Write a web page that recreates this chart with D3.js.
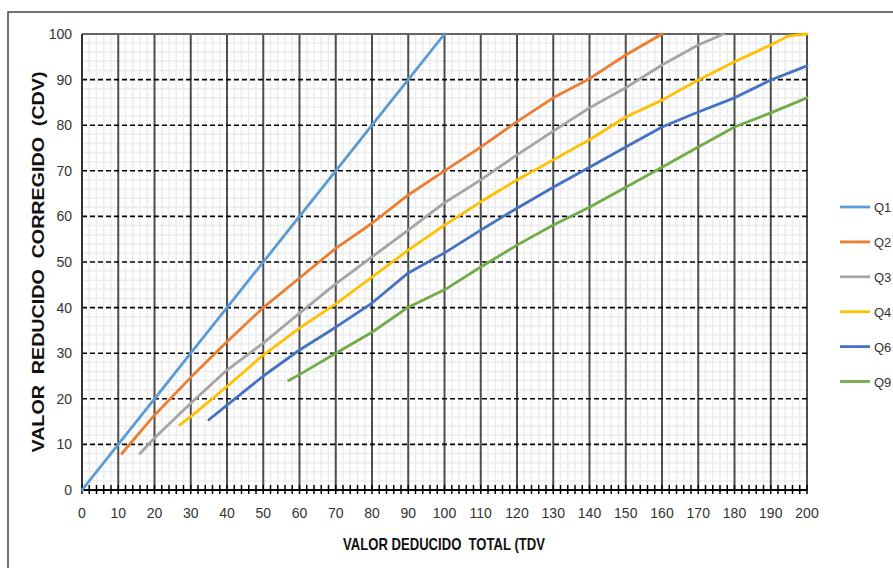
<!DOCTYPE html>
<html>
<head>
<meta charset="utf-8">
<script src="https://cdn.jsdelivr.net/npm/d3@7"></script>
<style>
  body { margin: 0; background: #fff; }
  svg { display: block; }
</style>
</head>
<body>
<svg id="chart"></svg>
<script>
// series: x = TDV, y = CDV
const seriesNames = ["Q1", "Q2", "Q3", "Q4", "Q6", "Q9"];
const seriesColors = ["#5b9bd5", "#ed7d31", "#a5a5a5", "#ffc000", "#4472c4", "#70ad47"];

const q1X = [0, 10, 20, 30, 40, 50, 60, 70, 80, 90, 100];
const q1Y = [0, 10, 20, 30, 40, 50, 60, 70, 80, 90, 100];
const q2X = [11, 20, 30, 40, 50, 60, 70, 80, 90, 100, 110, 120, 130, 140, 150, 160];
const q2Y = [8, 16.4, 24.7, 32.5, 40, 46.5, 53, 58.5, 64.7, 70, 75.2, 80.8, 86, 90.2, 95.4, 100];
const q3X = [16, 20, 30, 40, 50, 60, 70, 80, 90, 100, 110, 120, 130, 140, 150, 160, 170, 177];
const q3Y = [8, 11.4, 19, 26.3, 32.2, 38.8, 45.2, 51.1, 57, 63, 68, 73.5, 78.7, 83.8, 88.2, 93.2, 97.6, 100];
const q4X = [27, 30, 40, 50, 60, 70, 80, 90, 100, 110, 120, 130, 140, 150, 160, 170, 180, 190, 195, 200];
const q4Y = [14.3, 16.1, 22.7, 29.6, 35.5, 40.8, 46.7, 52.6, 58.1, 63.2, 68, 72.4, 76.8, 81.8, 85.5, 89.9, 93.9, 97.6, 99.6, 100];
const q6X = [35, 40, 50, 60, 70, 80, 90, 100, 110, 120, 130, 140, 150, 160, 170, 180, 190, 200];
const q6Y = [15.4, 18.6, 25, 30.7, 35.7, 41, 47.6, 52, 57, 61.8, 66.4, 70.8, 75.2, 79.6, 82.9, 86, 89.9, 93];
const q9X = [57, 60, 70, 80, 90, 100, 110, 120, 130, 140, 150, 160, 170, 180, 190, 200];
const q9Y = [24, 25.3, 30, 34.6, 40.1, 43.9, 48.9, 53.7, 58.1, 62, 66.4, 70.8, 75.2, 79.6, 82.7, 86];

const xTicks = d3.range(0, 201, 10);
const yTicks = d3.range(0, 101, 10);

const xTitle = "VALOR DEDUCIDO  TOTAL (TDV";
const yTitle = "VALOR  REDUCIDO  CORREGIDO  (CDV)";

const width = 893;
const height = 568;
const plot = { left: 82, right: 807, top: 34, bottom: 490 };

let svg = d3.select("#chart")
  .attr("width", width)
  .attr("height", height);

const allX = [q1X, q2X, q3X, q4X, q6X, q9X];
const allY = [q1Y, q2Y, q3Y, q4Y, q6Y, q9Y];
const series = seriesNames.map((name, i) => ({
  name: name,
  color: seriesColors[i],
  points: allX[i].map((x, j) => ({ x: x, y: allY[i][j] }))
}));

let scX = d3.scaleLinear().domain([0, 200]).range([plot.left, plot.right]);
let scY = d3.scaleLinear().domain([0, 100]).range([plot.bottom, plot.top]);

// outer frame
svg.append("rect")
  .attr("x", 8).attr("y", 12)
  .attr("width", 920).attr("height", 600)
  .attr("fill", "none")
  .attr("stroke", "#444")
  .attr("stroke-width", 1.5);

// minor grid every 2
let minorG = svg.append("g");
const minor = d3.range(2, 200, 2).filter(d => d % 10 != 0);
minorG.selectAll(".mx")
  .data(minor)
  .enter().append("line")
  .attr("x1", d => scX(d)).attr("x2", d => scX(d))
  .attr("y1", plot.top).attr("y2", plot.bottom)
  .attr("stroke", "#ececec").attr("stroke-width", 1.5);
minorG.selectAll(".my")
  .data(d3.range(2, 100, 2).filter(d => d % 10 != 0))
  .enter().append("line")
  .attr("x1", plot.left).attr("x2", plot.right)
  .attr("y1", d => scY(d)).attr("y2", d => scY(d))
  .attr("stroke", "#ececec").attr("stroke-width", 1.5);

// major verticals
svg.append("g").selectAll("line")
  .data(xTicks.filter(d => d > 0))
  .enter().append("line")
  .attr("x1", d => scX(d)).attr("x2", d => scX(d))
  .attr("y1", plot.top).attr("y2", plot.bottom)
  .attr("stroke", "#4d4d4d").attr("stroke-width", 2);

// major horizontals, dashed
svg.append("g").selectAll("line")
  .data(yTicks.filter(d => d > 0 && d < 100))
  .enter().append("line")
  .attr("x1", plot.left).attr("x2", plot.right)
  .attr("y1", d => scY(d)).attr("y2", d => scY(d))
  .attr("stroke", "#000").attr("stroke-width", 1.6)
  .attr("stroke-dasharray", "5,3");

// top line
svg.append("line")
  .attr("x1", plot.left).attr("x2", plot.right)
  .attr("y1", scY(100)).attr("y2", scY(100))
  .attr("stroke", "#666").attr("stroke-width", 2);

// y axis line
svg.append("line")
  .attr("x1", plot.left).attr("x2", plot.left)
  .attr("y1", plot.top).attr("y2", plot.bottom)
  .attr("stroke", "#333").attr("stroke-width", 2);

// x axis with crossing ticks every 2
let axisX = svg.append("g");
axisX.append("line")
  .attr("x1", plot.left).attr("x2", plot.right)
  .attr("y1", plot.bottom).attr("y2", plot.bottom)
  .attr("stroke", "#000").attr("stroke-width", 2);
axisX.selectAll(".tk")
  .data(d3.range(0, 201, 2))
  .enter().append("line")
  .attr("x1", d => scX(d)).attr("x2", d => scX(d))
  .attr("y1", plot.bottom - 5).attr("y2", plot.bottom + 4)
  .attr("stroke", "#000").attr("stroke-width", 1.5);

const tickFont = "'Liberation Sans Narrow', 'Arial Narrow', 'Liberation Sans', sans-serif";

axisX.selectAll(".lbl")
  .data(xTicks)
  .enter().append("text")
  .attr("x", d => scX(d))
  .attr("y", 518)
  .attr("text-anchor", "middle")
  .style("font", "14px " + tickFont)
  .attr("fill", "#333")
  .text(d => d);

svg.append("g").selectAll("text")
  .data(yTicks)
  .enter().append("text")
  .attr("x", 72)
  .attr("y", d => scY(d) + 5)
  .attr("text-anchor", "end")
  .style("font", "14px " + tickFont)
  .attr("fill", "#333")
  .text(d => d);

// curves
let line = d3.line().x(d => scX(d.x)).y(d => scY(d.y));
svg.append("g").selectAll("path")
  .data(series)
  .enter().append("path")
  .attr("d", d => line(d.points))
  .attr("fill", "none")
  .attr("stroke", d => d.color)
  .attr("stroke-width", 2.8)
  .attr("stroke-linejoin", "round")
  .attr("stroke-linecap", "round");

// titles
svg.append("text")
  .attr("x", 444).attr("y", 550)
  .attr("text-anchor", "middle")
  .attr("textLength", 202)
  .attr("lengthAdjust", "spacingAndGlyphs")
  .style("font", "bold 17px " + tickFont)
  .style("white-space", "pre")
  .attr("fill", "#111")
  .text(xTitle);

svg.append("text")
  .attr("transform", "translate(44, 262) rotate(-90)")
  .attr("text-anchor", "middle")
  .attr("textLength", 381)
  .attr("lengthAdjust", "spacingAndGlyphs")
  .style("font", "bold 16px 'Liberation Sans', Arial, sans-serif")
  .style("white-space", "pre")
  .attr("fill", "#111")
  .text(yTitle);

// legend
let legend = svg.selectAll(".lineLegend")
  .data(series)
  .enter().append("g")
  .attr("class", "lineLegend")
  .attr("transform", (d, i) => `translate(840, ${207 + i * 34.9})`);

legend.append("line")
  .attr("x1", 0).attr("x2", 30)
  .attr("y1", 0).attr("y2", 0)
  .attr("stroke", d => d.color)
  .attr("stroke-width", 2.8);

legend.append("text")
  .attr("x", 34).attr("y", 5)
  .style("font", "13px " + tickFont)
  .attr("fill", "#333")
  .text(d => d.name);
</script>
</body>
</html>
